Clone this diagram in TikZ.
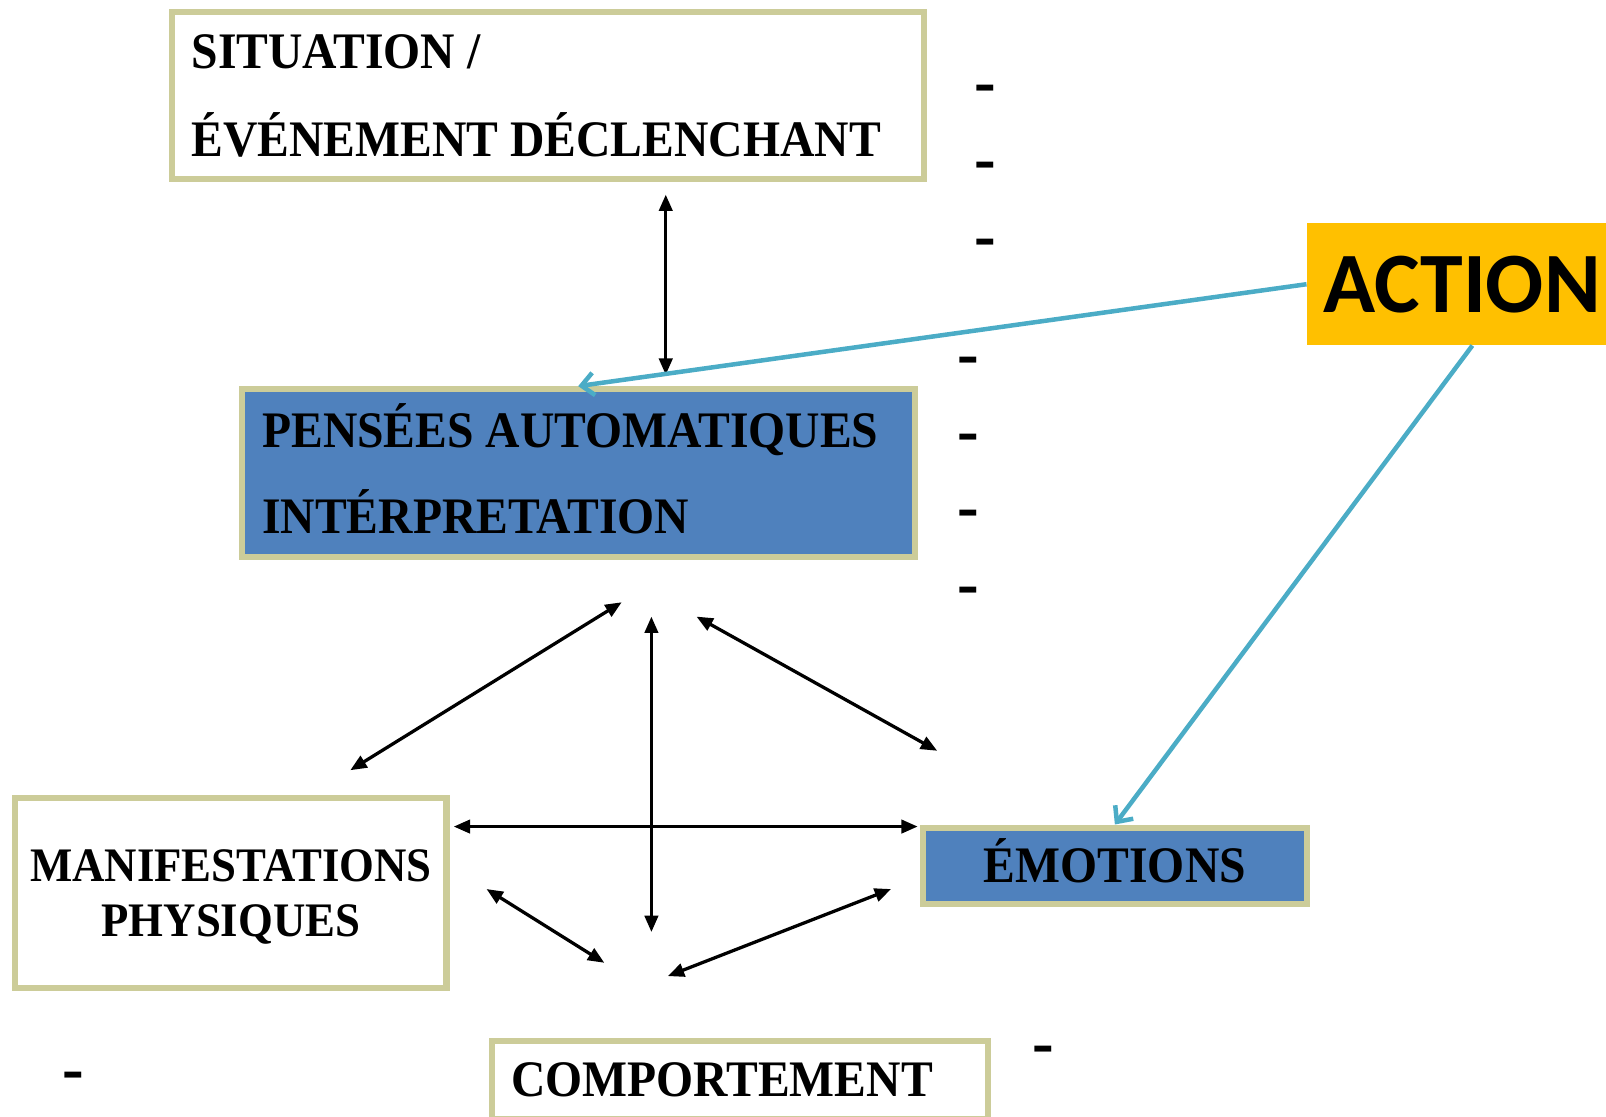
\documentclass[tikz,border=0pt]{standalone}
\usepackage{fontspec}
\newfontfamily\boxfont{Liberation Serif}[FakeStretch=0.93]
\newfontfamily\actionfont{Carlito}
\usetikzlibrary{arrows.meta}
\definecolor{khaki}{RGB}{204,204,153}
\definecolor{pblue}{RGB}{79,129,189}
\definecolor{aorange}{RGB}{255,192,0}
\definecolor{acyan}{RGB}{75,172,198}
\tikzset{
    cbox/.style={draw=khaki,line width=3pt,inner ysep=0pt,text height=16.5pt,font=\boxfont\bfseries\fontsize{25}{43}\selectfont},
    whitebox/.style={cbox,fill=white},
    bluebox/.style={cbox,fill=pblue},
    dbl/.style={{Triangle[length=8pt,width=6.5pt]}-{Triangle[length=8pt,width=6.5pt]},line width=1.6pt},
    act/.style={-{Straight Barb[length=6pt,width=11pt]},acyan,line width=2.2pt},
    dashnode/.style={font=\boxfont\bfseries\fontsize{34}{34}\selectfont,inner sep=0pt,anchor=base}
}
\begin{document}
\begin{tikzpicture}[x=0.5pt,y=-0.5pt]
        \useasboundingbox (0,0) rectangle (1568,1090);
        \node[whitebox,minimum width=367pt,minimum height=81.5pt,text width=348pt,inner xsep=9.5pt,align=flush left,text depth=43pt](sit)at(535,93.5){SITUATION /\\ÉVÉNEMENT DÉCLENCHANT};
        \node[bluebox,minimum width=328.5pt,minimum height=82pt,text width=308.5pt,inner xsep=10pt,align=flush left,text depth=42pt,font=\boxfont\bfseries\fontsize{25}{42}\selectfont](pens)at(564.5,462){PENSÉES AUTOMATIQUES\\INTÉRPRETATION};
        \node[whitebox,minimum width=210.5pt,minimum height=93pt,text width=204pt,inner xsep=3.25pt,align=flush center,text height=15.6pt,text depth=26.5pt,font=\boxfont\bfseries\fontsize{23.5}{26.5}\selectfont](manif)at(225.5,872){MANIFESTATIONS\\PHYSIQUES};
        \node[bluebox,minimum width=187.5pt,minimum height=37.5pt,text depth=0pt](emo)at(1088.5,845.5){ÉMOTIONS};
        \node[whitebox,minimum width=242.5pt,minimum height=38.5pt,text width=223.5pt,inner xsep=9.5pt,align=flush left,text depth=0pt](comp)at(722.5,1054.5){COMPORTEMENT};
        \node[fill=aorange,minimum width=151.5pt,minimum height=59.5pt,inner sep=0pt,font=\actionfont\bfseries\fontsize{42}{42}\selectfont](action)at(1427.5,277.5){ACTION};
        % free ends of the arrows
        \coordinate(a1)at(607,588); \coordinate(a2)at(342,752);
        \coordinate(b1)at(636,602); \coordinate(b2)at(636,910);
        \coordinate(c1)at(680,602); \coordinate(c2)at(915,733);
        \coordinate(e1)at(475,868); \coordinate(e2)at(590,940);
        \coordinate(f1)at(870,868); \coordinate(f2)at(652,953);
        \coordinate(h)at(0,807);
        \draw[dbl,shorten <=6pt,shorten >=5.5pt](sit.south -| 650,0)--(pens.north -| 650,0);
        \draw[dbl](a1)--(a2);
        \draw[dbl](b1)--(b2);
        \draw[dbl](c1)--(c2);
        \draw[dbl,shorten <=2pt,shorten >=1pt](manif.east |- h)--(emo.west |- h);
        \draw[dbl](e1)--(e2);
        \draw[dbl](f1)--(f2);
        \draw[act](action.west)--(pens.north);
        \draw[act]([xshift=5pt]action.south)--(emo.north);
        \foreach \x/\y [count=\i] in {961.5/84,961.5/159,961.5/234,945/350,945/425,945/499,945/574,72/1048,1019/1022} \node[dashnode](m\i)at(\x,\y+18){-};
    \end{tikzpicture}
\end{document}
